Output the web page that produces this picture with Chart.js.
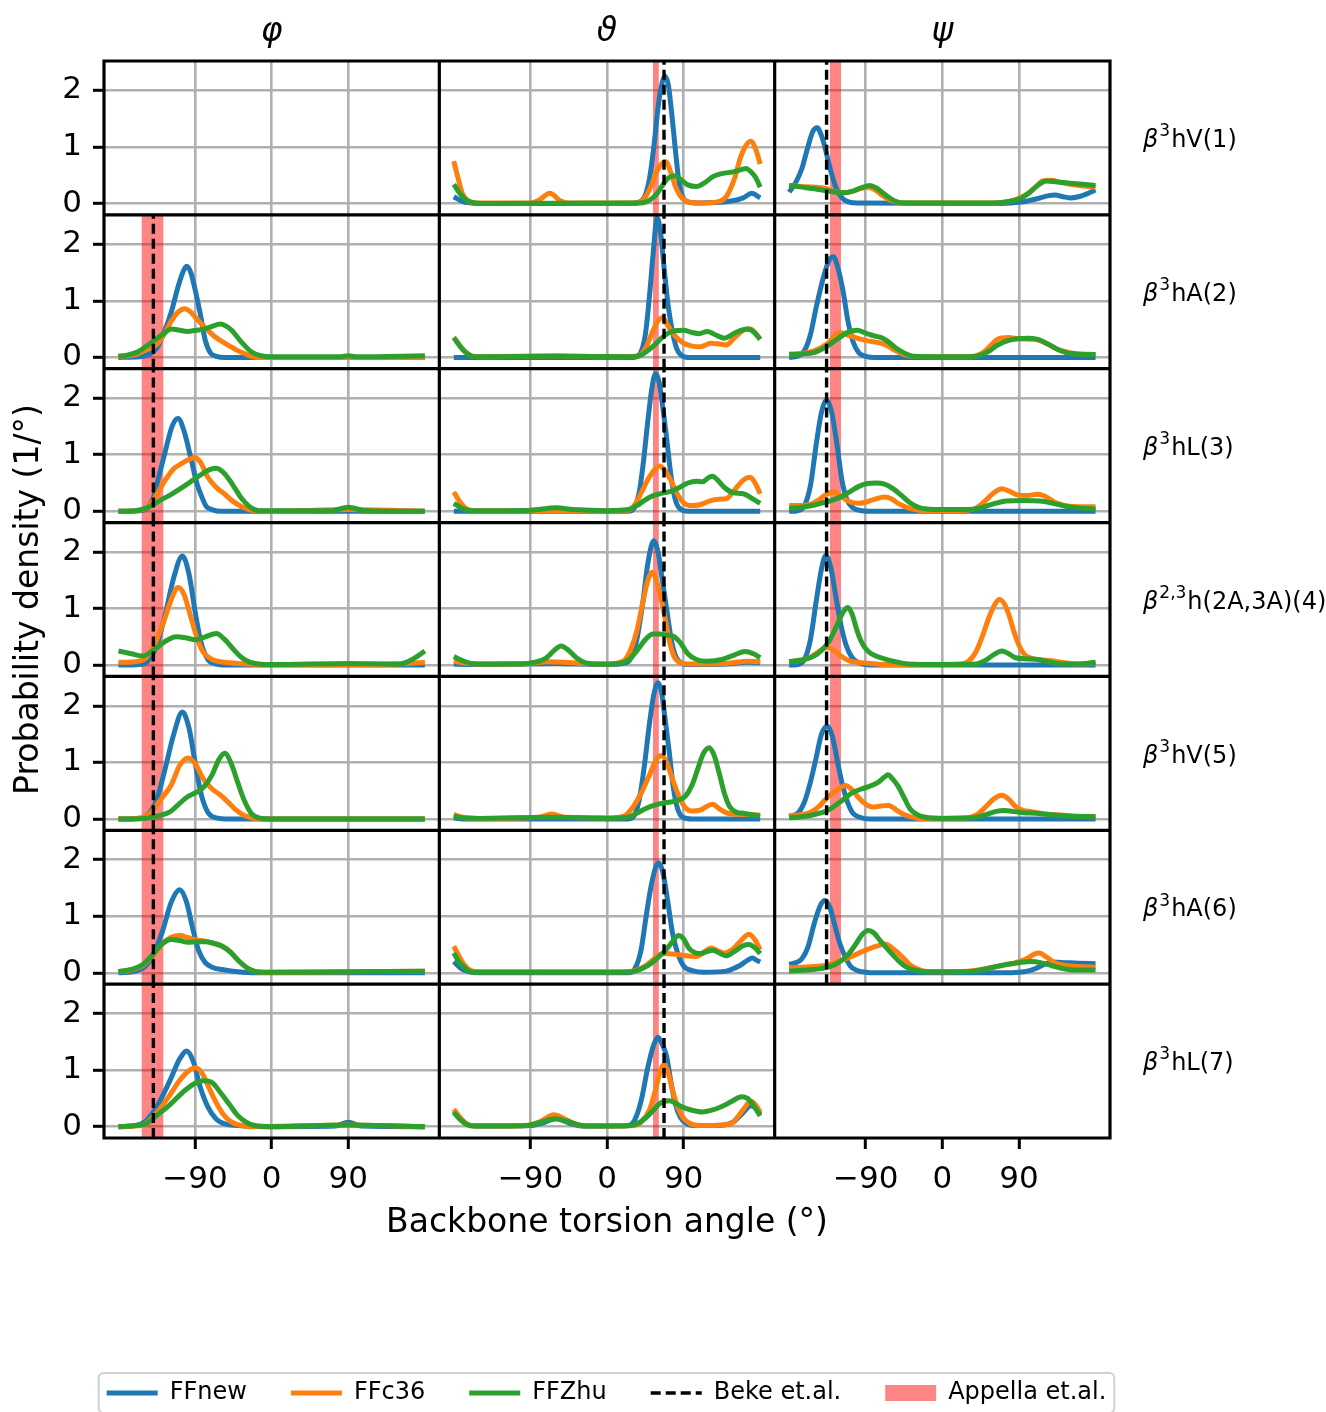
<!DOCTYPE html>
<html>
<head>
<meta charset="utf-8">
<script src="https://cdn.jsdelivr.net/npm/chart.js@4"></script>
<style>
  body { margin: 0; background: #fff; }
  canvas { display: block; }
</style>
</head>
<body>
<canvas id="torsions" width="1326" height="1412"></canvas>
<script>
// axes and labels
var angleTicks = [-90, 0, 90];
var densityTicks = [0, 1, 2];
var angleMin = -197, angleMax = 197;
var densityMin = -0.2, densityMax = 2.52;
var columnTitles = ["φ", "ϑ", "ψ"];
var residueSup = ["3", "3", "3", "2,3", "3", "3", "3"];
var residueName = ["hV(1)", "hA(2)", "hL(3)", "h(2A,3A)(4)", "hV(5)", "hA(6)", "hL(7)"];
var seriesNames = ["FFnew", "FFc36", "FFZhu"];
var seriesColors = ["#1f77b4", "#ff7f0e", "#2ca02c"];

// reference values per column (phi, theta, psi)
var bekeAngles = [-139, 67, -136];
var appellaRanges = [[-153, -127], [54, 61], [-132, -119]];
var refRows = [[1, 2, 3, 4, 5, 6], [0, 1, 2, 3, 4, 5, 6], [0, 1, 2, 3, 4, 5]];

// residue 1
var theta1_new = [[-180,0.12],[-170,0.04],[-160,0.01],[-150,0],[30,0],[40,0.04],[45,0.15],[50,0.45],[55,1.0],[60,1.7],[65,2.15],[68,2.25],[72,2.1],[76,1.6],[80,1.0],[84,0.45],[88,0.15],[93,0.04],[110,0.01],[140,0.03],[160,0.1],[170,0.18],[180,0.1]];
var theta1_c36 = [[-180,0.75],[-175,0.45],[-170,0.18],[-163,0.04],[-155,0.01],[-90,0.01],[-80,0.06],[-67,0.18],[-55,0.05],[-45,0.01],[30,0.01],[42,0.06],[50,0.25],[58,0.55],[64,0.7],[69,0.74],[75,0.55],[81,0.28],[88,0.1],[95,0.03],[110,0.01],[130,0.03],[140,0.12],[150,0.45],[157,0.82],[163,1.02],[169,1.1],[175,0.95],[180,0.7]];
var theta1_zhu = [[-180,0.34],[-173,0.18],[-165,0.06],[-155,0.01],[-140,0],[40,0.01],[50,0.06],[58,0.16],[65,0.32],[72,0.45],[80,0.49],[87,0.42],[95,0.33],[105,0.3],[115,0.37],[125,0.48],[135,0.53],[148,0.56],[158,0.6],[163,0.62],[170,0.55],[175,0.45],[180,0.29]];
var psi1_new = [[-180,0.2],[-172,0.38],[-165,0.62],[-158,1.0],[-152,1.28],[-147,1.34],[-142,1.2],[-138,1.0],[-134,0.75],[-130,0.52],[-125,0.28],[-118,0.1],[-110,0.03],[-100,0.01],[60,0],[80,0.01],[95,0.03],[110,0.08],[125,0.14],[132,0.15],[142,0.12],[150,0.1],[160,0.12],[170,0.17],[180,0.24]];
var psi1_c36 = [[-180,0.32],[-165,0.3],[-150,0.29],[-138,0.27],[-125,0.21],[-115,0.19],[-105,0.22],[-95,0.27],[-87,0.29],[-80,0.25],[-72,0.16],[-64,0.08],[-55,0.03],[-45,0.01],[60,0.01],[75,0.03],[88,0.08],[100,0.17],[110,0.3],[118,0.4],[128,0.41],[140,0.37],[150,0.34],[165,0.31],[180,0.29]];
var psi1_zhu = [[-180,0.32],[-165,0.29],[-150,0.26],[-138,0.23],[-125,0.2],[-115,0.19],[-105,0.22],[-95,0.28],[-85,0.32],[-78,0.28],[-70,0.19],[-62,0.1],[-55,0.04],[-45,0.01],[60,0.01],[80,0.04],[93,0.1],[103,0.2],[112,0.32],[122,0.4],[135,0.38],[150,0.36],[165,0.34],[180,0.32]];

// residue 2
var phi2_new = [[-180,0],[-155,0.01],[-145,0.05],[-135,0.16],[-126,0.46],[-118,0.8],[-110,1.25],[-104,1.52],[-100,1.61],[-95,1.5],[-90,1.2],[-84,0.78],[-78,0.3],[-72,0.08],[-65,0.02],[-55,0],[180,0]];
var phi2_c36 = [[-180,0.02],[-160,0.05],[-147,0.14],[-134,0.24],[-126,0.42],[-118,0.64],[-110,0.8],[-102,0.86],[-95,0.8],[-88,0.68],[-83,0.6],[-75,0.48],[-67,0.37],[-58,0.28],[-48,0.19],[-40,0.12],[-32,0.07],[-24,0.02],[-15,0],[180,0]];
var phi2_zhu = [[-180,0.02],[-170,0.04],[-157,0.1],[-147,0.2],[-139,0.29],[-126,0.43],[-118,0.5],[-108,0.48],[-99,0.46],[-89,0.48],[-79,0.5],[-70,0.55],[-60,0.59],[-53,0.55],[-47,0.48],[-36,0.28],[-24,0.1],[-13,0.03],[0,0.01],[80,0.01],[90,0.03],[100,0.01],[180,0.03]];
var theta2_new = [[-180,0],[30,0],[38,0.05],[45,0.4],[50,1.1],[54,1.8],[59,2.47],[63,2.2],[67,1.6],[72,0.9],[77,0.45],[82,0.15],[88,0.03],[95,0],[180,0]];
var theta2_c36 = [[-180,0.35],[-170,0.15],[-160,0.03],[-150,0.01],[-60,0.03],[0,0.01],[35,0.02],[45,0.15],[52,0.4],[58,0.6],[65,0.7],[72,0.55],[80,0.38],[90,0.25],[100,0.2],[110,0.19],[122,0.25],[130,0.24],[140,0.22],[150,0.35],[160,0.48],[168,0.5],[175,0.42],[180,0.32]];
var theta2_zhu = [[-180,0.35],[-170,0.15],[-160,0.03],[-150,0.01],[-60,0.02],[30,0.01],[40,0.04],[48,0.12],[56,0.22],[64,0.34],[72,0.43],[80,0.47],[90,0.48],[100,0.44],[108,0.42],[118,0.46],[126,0.41],[138,0.34],[150,0.43],[158,0.48],[166,0.5],[173,0.44],[180,0.32]];
var psi2_new = [[-180,0],[-170,0.02],[-162,0.12],[-155,0.4],[-148,0.9],[-140,1.4],[-133,1.72],[-128,1.78],[-123,1.6],[-117,1.2],[-111,0.65],[-105,0.28],[-98,0.08],[-90,0.02],[-80,0],[180,0]];
var psi2_c36 = [[-180,0.06],[-165,0.07],[-150,0.12],[-135,0.24],[-125,0.4],[-120,0.44],[-112,0.4],[-102,0.35],[-90,0.3],[-75,0.26],[-65,0.21],[-55,0.12],[-45,0.05],[-35,0.02],[30,0.01],[45,0.06],[55,0.18],[65,0.32],[78,0.35],[90,0.33],[108,0.32],[118,0.28],[128,0.2],[140,0.12],[155,0.07],[180,0.05]];
var psi2_zhu = [[-180,0.05],[-165,0.06],[-150,0.09],[-135,0.2],[-120,0.36],[-110,0.45],[-100,0.48],[-90,0.43],[-80,0.38],[-70,0.34],[-62,0.26],[-55,0.17],[-45,0.08],[-35,0.02],[30,0.01],[45,0.04],[55,0.11],[65,0.22],[78,0.3],[90,0.33],[100,0.34],[112,0.32],[125,0.23],[137,0.13],[150,0.07],[180,0.05]];

// residue 3
var phi3_new = [[-180,0],[-155,0.01],[-146,0.06],[-139,0.24],[-134,0.53],[-126,1.0],[-117,1.5],[-110,1.64],[-103,1.42],[-94,0.88],[-88,0.5],[-83,0.29],[-77,0.09],[-70,0.03],[-60,0],[180,0]];
var phi3_c36 = [[-180,0],[-160,0.01],[-145,0.08],[-135,0.3],[-125,0.55],[-115,0.75],[-105,0.85],[-95,0.93],[-90,0.95],[-83,0.85],[-75,0.6],[-65,0.42],[-55,0.3],[-45,0.17],[-35,0.08],[-25,0.02],[0,0],[90,0.03],[180,0]];
var phi3_zhu = [[-180,0],[-160,0.01],[-145,0.07],[-130,0.2],[-118,0.3],[-100,0.47],[-85,0.63],[-72,0.74],[-65,0.76],[-55,0.66],[-45,0.45],[-35,0.22],[-25,0.07],[-15,0.01],[70,0.01],[90,0.07],[110,0.01],[180,0]];
var theta3_new = [[-180,0],[25,0],[32,0.06],[38,0.35],[43,0.9],[48,1.6],[53,2.2],[57,2.43],[61,2.3],[65,1.9],[70,1.3],[75,0.65],[80,0.22],[86,0.04],[95,0],[180,0]];
var theta3_c36 = [[-180,0.34],[-172,0.15],[-163,0.03],[-150,0.01],[-60,0.01],[25,0.02],[32,0.1],[40,0.32],[48,0.56],[55,0.72],[62,0.8],[68,0.72],[75,0.55],[82,0.32],[90,0.15],[100,0.1],[110,0.12],[120,0.18],[128,0.21],[140,0.22],[150,0.38],[160,0.55],[168,0.6],[174,0.5],[180,0.31]];
var theta3_zhu = [[-180,0.14],[-170,0.05],[-160,0.01],[-90,0.02],[-60,0.06],[-40,0.03],[0,0.01],[25,0.03],[35,0.1],[45,0.2],[55,0.28],[65,0.32],[75,0.35],[85,0.42],[95,0.5],[105,0.53],[112,0.52],[120,0.6],[124,0.62],[130,0.55],[138,0.42],[148,0.33],[160,0.31],[170,0.23],[180,0.14]];
var psi3_new = [[-180,0],[-170,0.01],[-162,0.1],[-155,0.45],[-148,1.2],[-142,1.75],[-136,1.97],[-130,1.75],[-124,1.2],[-118,0.55],[-112,0.2],[-105,0.06],[-95,0.01],[-80,0],[180,0]];
var psi3_c36 = [[-180,0.1],[-165,0.1],[-155,0.12],[-145,0.2],[-138,0.28],[-129,0.34],[-120,0.28],[-112,0.19],[-100,0.14],[-90,0.16],[-80,0.21],[-68,0.25],[-60,0.22],[-52,0.14],[-42,0.07],[-32,0.03],[-20,0.01],[30,0.02],[40,0.06],[50,0.18],[60,0.32],[70,0.4],[78,0.36],[88,0.29],[100,0.28],[112,0.3],[120,0.27],[132,0.16],[145,0.1],[160,0.08],[180,0.08]];
var psi3_zhu = [[-180,0.05],[-165,0.07],[-150,0.11],[-140,0.15],[-128,0.2],[-118,0.26],[-108,0.35],[-98,0.44],[-88,0.49],[-78,0.5],[-68,0.48],[-58,0.4],[-48,0.28],[-38,0.15],[-28,0.07],[-18,0.04],[0,0.03],[30,0.03],[45,0.06],[60,0.13],[75,0.18],[95,0.19],[115,0.18],[130,0.14],[145,0.09],[160,0.06],[180,0.04]];

// residue 4
var phi4_new = [[-180,0],[-155,0.01],[-145,0.08],[-135,0.35],[-125,0.9],[-115,1.55],[-105,1.93],[-97,1.6],[-90,0.95],[-83,0.4],[-75,0.1],[-65,0.02],[-50,0],[180,0]];
var phi4_c36 = [[-180,0.05],[-160,0.06],[-148,0.12],[-135,0.45],[-125,0.85],[-117,1.2],[-110,1.37],[-103,1.25],[-95,0.85],[-87,0.45],[-80,0.22],[-70,0.1],[-55,0.05],[-30,0.02],[0,0.01],[120,0.01],[160,0.03],[180,0.05]];
var phi4_zhu = [[-180,0.25],[-165,0.2],[-152,0.16],[-140,0.25],[-125,0.42],[-112,0.5],[-100,0.48],[-90,0.45],[-78,0.5],[-65,0.56],[-55,0.45],[-45,0.28],[-35,0.13],[-25,0.05],[-15,0.02],[0,0.01],[90,0.03],[150,0.02],[165,0.1],[180,0.25]];
var theta4_new = [[-180,0.02],[-160,0.01],[-60,0.03],[0,0.01],[20,0.03],[28,0.12],[35,0.45],[42,1.1],[48,1.8],[55,2.2],[60,2.0],[65,1.5],[70,1.0],[75,0.5],[80,0.18],[86,0.05],[95,0.01],[140,0.02],[165,0.05],[180,0.04]];
var theta4_c36 = [[-180,0.07],[-165,0.03],[-140,0.02],[-90,0.03],[-70,0.06],[-50,0.05],[-30,0.03],[0,0.02],[20,0.08],[28,0.28],[35,0.6],[42,1.1],[48,1.5],[53,1.64],[58,1.5],[63,1.2],[68,0.85],[73,0.45],[78,0.18],[85,0.05],[95,0.02],[140,0.03],[165,0.07],[180,0.06]];
var theta4_zhu = [[-180,0.15],[-170,0.08],[-160,0.03],[-140,0.02],[-100,0.02],[-85,0.05],[-72,0.12],[-62,0.26],[-54,0.34],[-45,0.26],[-36,0.13],[-25,0.04],[-10,0.02],[15,0.03],[25,0.09],[35,0.25],[45,0.45],[54,0.55],[62,0.55],[70,0.53],[78,0.51],[86,0.4],[95,0.2],[105,0.1],[118,0.07],[135,0.1],[150,0.18],[162,0.24],[172,0.2],[180,0.13]];
var psi4_new = [[-180,0],[-170,0.01],[-162,0.1],[-155,0.45],[-148,1.15],[-142,1.7],[-137,1.94],[-131,1.72],[-125,1.2],[-119,0.7],[-113,0.35],[-106,0.13],[-98,0.04],[-90,0.01],[-80,0],[180,0]];
var psi4_c36 = [[-180,0.06],[-165,0.09],[-155,0.14],[-145,0.24],[-136,0.31],[-128,0.27],[-120,0.17],[-110,0.08],[-100,0.05],[-85,0.03],[-60,0.01],[20,0.02],[30,0.06],[40,0.25],[48,0.55],[55,0.85],[62,1.08],[67,1.16],[73,1.08],[78,0.9],[84,0.6],[90,0.35],[97,0.18],[105,0.12],[118,0.09],[132,0.07],[150,0.03],[165,0.02],[180,0.04]];
var psi4_zhu = [[-180,0.06],[-165,0.09],[-152,0.15],[-142,0.26],[-132,0.45],[-124,0.7],[-116,0.95],[-111,1.02],[-106,0.9],[-100,0.6],[-94,0.38],[-87,0.24],[-78,0.16],[-70,0.12],[-55,0.06],[-40,0.02],[0,0.01],[40,0.02],[50,0.08],[60,0.18],[70,0.25],[78,0.2],[86,0.13],[100,0.11],[112,0.1],[124,0.06],[140,0.02],[160,0.02],[180,0.05]];

// residue 5
var phi5_new = [[-180,0],[-155,0.01],[-145,0.08],[-135,0.35],[-125,0.9],[-115,1.5],[-105,1.89],[-97,1.6],[-90,1.0],[-83,0.45],[-75,0.12],[-65,0.02],[-50,0],[180,0]];
var phi5_c36 = [[-180,0],[-160,0.01],[-145,0.07],[-130,0.35],[-118,0.6],[-108,0.95],[-98,1.08],[-90,0.98],[-80,0.7],[-70,0.53],[-60,0.42],[-50,0.28],[-42,0.16],[-32,0.06],[-20,0.01],[0,0],[180,0]];
var phi5_zhu = [[-180,0],[-150,0.01],[-135,0.05],[-120,0.12],[-110,0.25],[-100,0.38],[-90,0.46],[-80,0.56],[-70,0.78],[-62,1.05],[-55,1.16],[-48,1.0],[-40,0.65],[-32,0.32],[-24,0.1],[-15,0.02],[0,0],[180,0]];
var theta5_new = [[-180,0.02],[-170,0],[25,0],[32,0.06],[38,0.35],[44,0.95],[50,1.7],[55,2.2],[60,2.41],[64,2.25],[68,1.8],[73,1.2],[78,0.55],[83,0.18],[89,0.03],[100,0],[180,0]];
var theta5_c36 = [[-180,0.08],[-170,0.03],[-150,0.01],[-80,0.03],[-65,0.09],[-50,0.03],[0,0.02],[20,0.05],[30,0.2],[40,0.45],[50,0.78],[58,1.05],[64,1.12],[70,1.0],[77,0.7],[84,0.42],[92,0.2],[100,0.14],[110,0.16],[117,0.22],[124,0.26],[132,0.18],[142,0.1],[160,0.08],[180,0.07]];
var theta5_zhu = [[-180,0.05],[-170,0.02],[-150,0.01],[-65,0.03],[0,0.01],[25,0.03],[35,0.1],[45,0.18],[55,0.24],[65,0.28],[75,0.3],[85,0.34],[92,0.4],[100,0.6],[107,0.9],[113,1.15],[120,1.26],[126,1.12],[132,0.8],[138,0.45],[144,0.22],[152,0.12],[160,0.1],[180,0.05]];
var psi5_new = [[-180,0.05],[-170,0.1],[-162,0.3],[-155,0.65],[-148,1.1],[-142,1.5],[-135,1.64],[-129,1.45],[-123,1.0],[-117,0.58],[-111,0.28],[-105,0.1],[-97,0.03],[-85,0],[180,0]];
var psi5_c36 = [[-180,0.05],[-165,0.08],[-155,0.12],[-145,0.22],[-135,0.38],[-125,0.5],[-114,0.59],[-105,0.5],[-98,0.37],[-90,0.26],[-82,0.21],[-72,0.23],[-63,0.24],[-55,0.17],[-48,0.1],[-38,0.04],[-28,0.01],[30,0.02],[40,0.07],[50,0.2],[60,0.35],[70,0.42],[78,0.35],[86,0.22],[95,0.15],[105,0.13],[120,0.09],[140,0.07],[160,0.05],[180,0.04]];
var psi5_zhu = [[-180,0.02],[-165,0.04],[-150,0.08],[-135,0.15],[-120,0.3],[-105,0.47],[-95,0.53],[-85,0.58],[-75,0.65],[-68,0.74],[-64,0.78],[-58,0.7],[-52,0.58],[-45,0.38],[-38,0.18],[-30,0.08],[-20,0.03],[0,0.01],[35,0.02],[50,0.07],[62,0.13],[73,0.15],[85,0.13],[95,0.11],[110,0.1],[125,0.08],[150,0.05],[180,0.04]];

// residue 6
var phi6_new = [[-180,0],[-160,0.03],[-148,0.12],[-138,0.35],[-128,0.75],[-118,1.25],[-108,1.47],[-100,1.25],[-93,0.8],[-86,0.4],[-78,0.18],[-70,0.1],[-55,0.05],[-40,0.02],[-20,0],[180,0]];
var phi6_c36 = [[-180,0.02],[-165,0.05],[-152,0.12],[-140,0.3],[-128,0.52],[-118,0.63],[-108,0.66],[-98,0.62],[-88,0.58],[-78,0.56],[-68,0.52],[-58,0.47],[-48,0.36],[-38,0.2],[-28,0.08],[-18,0.02],[0,0.01],[90,0.02],[180,0.03]];
var phi6_zhu = [[-180,0.02],[-165,0.06],[-152,0.14],[-140,0.32],[-128,0.52],[-118,0.59],[-108,0.57],[-98,0.54],[-88,0.55],[-78,0.55],[-68,0.52],[-58,0.47],[-48,0.36],[-38,0.2],[-28,0.08],[-18,0.02],[0,0.01],[90,0.02],[180,0.03]];
var theta6_new = [[-180,0.2],[-172,0.08],[-163,0.02],[-150,0],[25,0],[33,0.08],[40,0.4],[46,1.0],[52,1.55],[58,1.9],[61,1.94],[66,1.75],[72,1.2],[77,0.7],[83,0.35],[90,0.12],[100,0.04],[115,0.01],[140,0.03],[155,0.12],[165,0.22],[171,0.26],[176,0.22],[180,0.19]];
var theta6_c36 = [[-180,0.47],[-174,0.3],[-168,0.15],[-160,0.04],[-150,0.02],[0,0.02],[30,0.03],[40,0.08],[50,0.18],[58,0.28],[66,0.34],[80,0.33],[93,0.3],[105,0.29],[115,0.38],[122,0.44],[130,0.39],[138,0.35],[148,0.42],[158,0.58],[167,0.68],[174,0.58],[180,0.41]];
var theta6_zhu = [[-180,0.35],[-174,0.2],[-168,0.1],[-160,0.02],[-150,0.01],[0,0.01],[30,0.02],[42,0.08],[52,0.17],[62,0.3],[70,0.42],[77,0.55],[84,0.66],[90,0.6],[96,0.44],[103,0.36],[110,0.34],[118,0.38],[124,0.4],[132,0.35],[140,0.3],[150,0.38],[160,0.48],[167,0.5],[174,0.44],[180,0.34]];
var psi6_new = [[-180,0.15],[-172,0.18],[-165,0.25],[-158,0.45],[-150,0.9],[-143,1.2],[-138,1.28],[-132,1.15],[-126,0.82],[-120,0.5],[-114,0.28],[-108,0.12],[-100,0.04],[-90,0.01],[-80,0],[70,0],[90,0.01],[100,0.03],[110,0.08],[120,0.15],[130,0.19],[145,0.18],[160,0.17],[180,0.16]];
var psi6_c36 = [[-180,0.09],[-165,0.1],[-150,0.11],[-135,0.14],[-125,0.19],[-115,0.24],[-105,0.3],[-95,0.37],[-87,0.42],[-75,0.48],[-67,0.51],[-60,0.45],[-52,0.35],[-45,0.25],[-38,0.14],[-28,0.06],[-18,0.02],[30,0.03],[45,0.06],[60,0.1],[75,0.14],[90,0.2],[100,0.26],[108,0.33],[114,0.35],[122,0.28],[132,0.18],[145,0.13],[160,0.11],[180,0.1]];
var psi6_zhu = [[-180,0.03],[-160,0.05],[-145,0.07],[-132,0.11],[-122,0.18],[-112,0.3],[-102,0.5],[-94,0.68],[-87,0.75],[-80,0.7],[-72,0.55],[-62,0.38],[-52,0.22],[-42,0.1],[-32,0.05],[-20,0.02],[30,0.02],[45,0.05],[60,0.1],[75,0.15],[90,0.18],[105,0.2],[115,0.18],[128,0.13],[140,0.08],[155,0.05],[180,0.05]];

// residue 7
var phi7_new = [[-180,0],[-160,0.02],[-148,0.1],[-135,0.35],[-120,0.8],[-108,1.2],[-100,1.34],[-92,1.15],[-84,0.7],[-75,0.35],[-65,0.13],[-55,0.05],[-40,0.02],[0,0],[75,0.01],[90,0.08],[105,0.01],[180,0]];
var phi7_c36 = [[-180,0],[-160,0.01],[-148,0.06],[-135,0.25],[-120,0.55],[-108,0.82],[-98,0.98],[-90,1.04],[-82,0.95],[-74,0.7],[-65,0.42],[-57,0.22],[-48,0.09],[-38,0.03],[-25,0],[90,0.03],[180,0]];
var phi7_zhu = [[-180,0],[-160,0.02],[-148,0.05],[-135,0.2],[-120,0.38],[-105,0.6],[-92,0.75],[-80,0.81],[-70,0.78],[-60,0.6],[-50,0.4],[-40,0.2],[-30,0.08],[-20,0.02],[0,0],[90,0.03],[180,0]];
var theta7_new = [[-180,0.28],[-172,0.14],[-165,0.05],[-155,0.01],[-90,0.02],[-75,0.07],[-60,0.14],[-50,0.1],[-40,0.04],[-30,0.01],[25,0.02],[32,0.1],[40,0.45],[48,1.05],[55,1.45],[60,1.58],[65,1.45],[70,1.25],[75,0.8],[80,0.42],[86,0.17],[93,0.06],[105,0.02],[130,0.02],[148,0.08],[160,0.25],[169,0.37],[175,0.32],[180,0.22]];
var theta7_c36 = [[-180,0.31],[-172,0.15],[-165,0.05],[-155,0.01],[-95,0.02],[-80,0.08],[-62,0.21],[-50,0.14],[-38,0.05],[-25,0.01],[30,0.02],[40,0.08],[50,0.3],[57,0.65],[62,0.95],[67,1.1],[72,0.95],[77,0.65],[83,0.35],[89,0.17],[97,0.06],[110,0.02],[135,0.03],[148,0.08],[160,0.3],[169,0.45],[175,0.38],[180,0.25]];
var theta7_zhu = [[-180,0.25],[-172,0.12],[-165,0.04],[-155,0.01],[-95,0.02],[-80,0.07],[-60,0.14],[-48,0.1],[-35,0.04],[-25,0.01],[20,0.01],[35,0.05],[45,0.15],[55,0.3],[62,0.41],[68,0.45],[73,0.46],[80,0.42],[88,0.35],[100,0.29],[112,0.26],[125,0.3],[138,0.38],[148,0.46],[158,0.53],[165,0.5],[172,0.38],[180,0.19]];

// panel table: rows = residues, columns = phi, theta, psi
var panelSeries = [
  [null, [theta1_new, theta1_c36, theta1_zhu], [psi1_new, psi1_c36, psi1_zhu]],
  [[phi2_new, phi2_c36, phi2_zhu], [theta2_new, theta2_c36, theta2_zhu], [psi2_new, psi2_c36, psi2_zhu]],
  [[phi3_new, phi3_c36, phi3_zhu], [theta3_new, theta3_c36, theta3_zhu], [psi3_new, psi3_c36, psi3_zhu]],
  [[phi4_new, phi4_c36, phi4_zhu], [theta4_new, theta4_c36, theta4_zhu], [psi4_new, psi4_c36, psi4_zhu]],
  [[phi5_new, phi5_c36, phi5_zhu], [theta5_new, theta5_c36, theta5_zhu], [psi5_new, psi5_c36, psi5_zhu]],
  [[phi6_new, phi6_c36, phi6_zhu], [theta6_new, theta6_c36, theta6_zhu], [psi6_new, psi6_c36, psi6_zhu]],
  [[phi7_new, phi7_c36, phi7_zhu], [theta7_new, theta7_c36, theta7_zhu], null]
];

var FONT = "DejaVu Sans";
var spanColor = "rgba(255,0,0,0.48)";
var curveWidth = 5;
var dashWidth = 3.4;

var datasets = [];
panelSeries.forEach(function (row, r) {
  row.forEach(function (triple, c) {
    if (!triple) return;
    triple.forEach(function (pts, k) {
      datasets.push({
        data: pts,
        xAxisID: "x" + c,
        yAxisID: "y" + r,
        borderColor: seriesColors[k],
        borderWidth: curveWidth,
        pointRadius: 0,
        cubicInterpolationMode: "monotone",
        fill: false,
        order: 3 - k
      });
    });
  });
});
refRows.forEach(function (rowsWithRef, c) {
  rowsWithRef.forEach(function (r) {
    datasets.push({
      data: [[appellaRanges[c][0], densityMax], [appellaRanges[c][1], densityMax]],
      xAxisID: "x" + c,
      yAxisID: "y" + r,
      borderColor: "rgba(0,0,0,0)",
      borderWidth: 0,
      backgroundColor: spanColor,
      fill: "start",
      pointRadius: 0,
      order: 10
    });
    datasets.push({
      data: [[bekeAngles[c], densityMin], [bekeAngles[c], densityMax]],
      xAxisID: "x" + c,
      yAxisID: "y" + r,
      borderColor: "#000",
      borderWidth: dashWidth,
      borderDash: [10, 5],
      pointRadius: 0,
      fill: false,
      order: 0
    });
  });
});

function minusSign(v) {
  return v < 0 ? "\u2212" + Math.abs(v) : String(v);
}

var gridStyle = {
  color: "#b0b0b0",
  lineWidth: 2.6,
  tickLength: 11,
  tickWidth: 3,
  tickColor: "#000"
};

var scales = {};
columnTitles.forEach(function (title, c) {
  scales["x" + c] = {
    type: "linear",
    position: "bottom",
    stack: "cols",
    weight: c,
    min: angleMin,
    max: angleMax,
    afterBuildTicks: function (axis) { axis.ticks = angleTicks.map(function (v) { return {value: v}; }); },
    afterFit: function (axis) { axis.height = 60; },
    grid: gridStyle,
    border: {display: false},
    ticks: {
      autoSkip: false,
      maxRotation: 0,
      padding: 12,
      color: "#000",
      font: {family: FONT, size: 31},
      callback: function (v) { return minusSign(v); }
    }
  };
  scales["xt" + c] = {
    type: "linear",
    position: "top",
    stack: "heads",
    weight: 3 - c,
    min: angleMin,
    max: angleMax,
    afterFit: function (axis) { axis.height = 61; },
    grid: {display: false},
    border: {display: false},
    ticks: {display: false},
    title: {
      display: true,
      text: title,
      color: "#000",
      font: {family: FONT, size: 33, style: "italic"},
      padding: {top: 13, bottom: 0}
    }
  };
});
// full-width axis carrying the shared x label
scales.xlabel = {
  type: "linear",
  position: "bottom",
  weight: 10,
  min: angleMin,
  max: angleMax,
  afterFit: function (axis) { axis.height = 139; },
  grid: {display: false},
  border: {display: false},
  ticks: {display: false},
  title: {
    display: true,
    text: "Backbone torsion angle (°)",
    color: "#000",
    font: {family: FONT, size: 33},
    padding: {top: 0, bottom: 94}
  }
};
residueName.forEach(function (name, r) {
  scales["y" + r] = {
    type: "linear",
    position: "left",
    stack: "rows",
    weight: 7 - r,
    min: densityMin,
    max: densityMax,
    afterBuildTicks: function (axis) { axis.ticks = densityTicks.map(function (v) { return {value: v}; }); },
    afterFit: function (axis) { axis.width = 104; },
    grid: gridStyle,
    border: {display: false},
    ticks: {
      padding: 11,
      color: "#000",
      font: {family: FONT, size: 31}
    },
    title: {
      display: r === 3,
      text: "Probability density (1/°)",
      color: "#000",
      font: {family: FONT, size: 33},
      padding: {top: 10, bottom: 0}
    }
  };
});
scales.yr = {
  type: "linear",
  position: "right",
  min: 0,
  max: 1,
  afterFit: function (axis) { axis.width = 103; },
  grid: {display: false},
  border: {display: false},
  ticks: {display: false}
};

var legendItems = [
  {text: seriesNames[0], strokeStyle: seriesColors[0], fillStyle: seriesColors[0], lineWidth: curveWidth, pointStyle: "line"},
  {text: seriesNames[1], strokeStyle: seriesColors[1], fillStyle: seriesColors[1], lineWidth: curveWidth, pointStyle: "line"},
  {text: seriesNames[2], strokeStyle: seriesColors[2], fillStyle: seriesColors[2], lineWidth: curveWidth, pointStyle: "line"},
  {text: "Beke et.al.", strokeStyle: "#000", fillStyle: "#000", lineWidth: dashWidth, lineDash: [10, 5], pointStyle: "line"},
  {text: "Appella et.al.", strokeStyle: spanColor, fillStyle: spanColor, lineWidth: 0, pointStyle: "rect"}
];

// frame, empty panel, row labels and legend box
var panelDecor = {
  id: "panelDecor",
  beforeDatasetsDraw: function (chart) {
    var ctx = chart.ctx;
    var xs = chart.scales.x2, ys = chart.scales.y6;
    ctx.save();
    ctx.fillStyle = "#fff";
    ctx.fillRect(xs.left, ys.top, xs.right - xs.left, ys.bottom - ys.top);
    ctx.restore();
  },
  afterDatasetsDraw: function (chart) {
    var ctx = chart.ctx, a = chart.chartArea;
    ctx.save();
    ctx.strokeStyle = "#000";
    ctx.lineWidth = 3.2;
    ctx.lineCap = "square";
    ctx.beginPath();
    for (var c = 0; c < 3; c++) {
      var s = chart.scales["x" + c];
      ctx.moveTo(s.left, a.top); ctx.lineTo(s.left, a.bottom);
      ctx.moveTo(s.right, a.top); ctx.lineTo(s.right, a.bottom);
    }
    for (var r = 0; r < 7; r++) {
      var t = chart.scales["y" + r];
      ctx.moveTo(a.left, t.top); ctx.lineTo(a.right, t.top);
      ctx.moveTo(a.left, t.bottom); ctx.lineTo(a.right, t.bottom);
    }
    ctx.stroke();
    ctx.restore();
  },
  afterDraw: function (chart) {
    var ctx = chart.ctx, a = chart.chartArea;
    ctx.save();
    ctx.fillStyle = "#000";
    ctx.textBaseline = "middle";
    residueName.forEach(function (name, r) {
      var s = chart.scales["y" + r];
      var y = (s.top + s.bottom) / 2 + 3;
      var x = a.right + 33;
      ctx.font = "italic 24px '" + FONT + "'";
      ctx.fillText("β", x, y);
      x += ctx.measureText("β").width + 1;
      ctx.font = "17px '" + FONT + "'";
      ctx.fillText(residueSup[r], x, y - 9);
      x += ctx.measureText(residueSup[r]).width + 1;
      ctx.font = "24px '" + FONT + "'";
      ctx.fillText(name, x, y);
    });
    var boxes = chart.legend.legendHitBoxes;
    if (boxes && boxes.length) {
      var left = boxes[0].left, right = boxes[boxes.length - 1].left + boxes[boxes.length - 1].width;
      var cy = boxes[0].top + boxes[0].height / 2;
      ctx.strokeStyle = "#d0d0d0";
      ctx.lineWidth = 2;
      ctx.beginPath();
      ctx.roundRect(left - 8, cy - 20, right - left + 16, 40, 5);
      ctx.stroke();
    }
    ctx.restore();
  }
};

var torsionChart = new Chart(document.getElementById("torsions"), {
  type: "line",
  data: {datasets: datasets},
  options: {
    responsive: false,
    animation: false,
    devicePixelRatio: 1,
    events: [],
    layout: {padding: {left: 0, right: 113, top: 0, bottom: 0}},
    scales: scales,
    plugins: {
      tooltip: {enabled: false},
      legend: {
        display: true,
        position: "bottom",
        maxHeight: 75,
        onClick: null,
        labels: {
          usePointStyle: true,
          pointStyleWidth: 51,
          boxHeight: 16,
          padding: 44,
          color: "#000",
          font: {family: FONT, size: 24},
          generateLabels: function () {
            return legendItems.map(function (it) {
              return Object.assign({hidden: false, fontColor: "#000"}, it);
            });
          }
        }
      }
    }
  },
  plugins: [panelDecor]
});
</script>
</body>
</html>
